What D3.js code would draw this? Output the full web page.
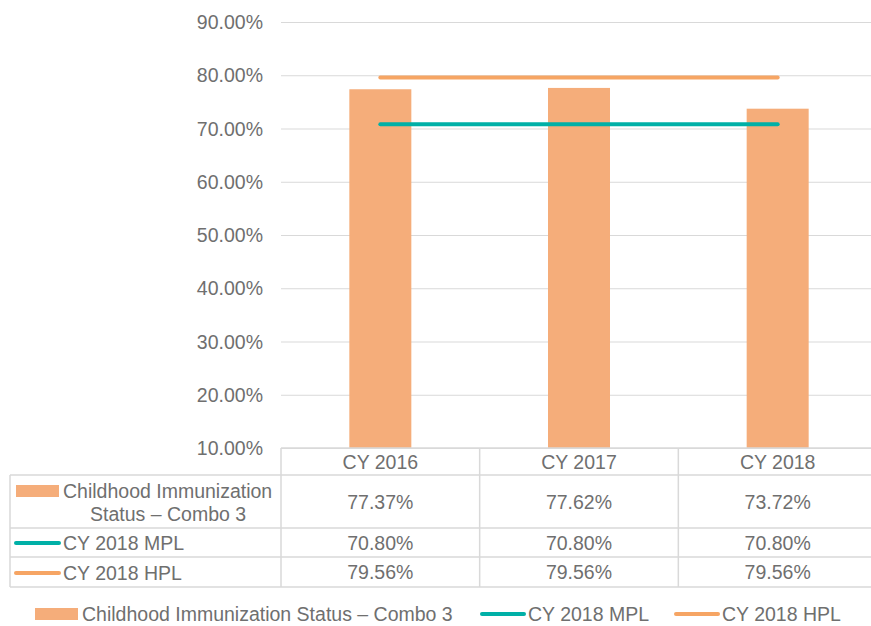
<!DOCTYPE html>
<html>
<head>
<meta charset="utf-8">
<script src="https://cdn.jsdelivr.net/npm/d3@7"></script>
<style>
  body { margin: 0; background: #fff; }
  svg text { font-family: "Liberation Sans", Arial, sans-serif; fill: #6f6f6f; }
</style>
</head>
<body>
<div id="chart"></div>
<script>
// datos del gráfico
var categories = ["CY 2016", "CY 2017", "CY 2018"];
var combo3 = [77.37, 77.62, 73.72];
var mpl = [70.80, 70.80, 70.80];
var hpl = [79.56, 79.56, 79.56];
var yTicks = [10, 20, 30, 40, 50, 60, 70, 80, 90];
var seriesNames = ["Childhood Immunization Status \u2013 Combo 3", "CY 2018 MPL", "CY 2018 HPL"];

var barColor = "#f5ad7a";
var mplColor = "#00b0a7";
var hplColor = "#f6a564";
var gridColor = "#d9d9d9";
var fontSize = "19.5px";

var width = 871, height = 626;
var plotLeft = 281, plotRight = 871, plotTop = 22, plotBottom = 448;

var svg = d3.select("#chart").append("svg")
    .attr("width", width)
    .attr("height", height);

// la última columna se sale un poco del lienzo
var x = d3.scaleBand()
    .domain(categories)
    .range([plotLeft, 877]);

var y = d3.scaleLinear()
    .domain([10, 90])
    .range([plotBottom, plotTop]);

// líneas de cuadrícula
svg.selectAll("line.grid")
    .data(yTicks)
    .enter().append("line")
    .attr("class", "grid")
    .attr("x1", plotLeft)
    .attr("x2", plotRight)
    .attr("y1", d => y(d) + 0.5)
    .attr("y2", d => y(d) + 0.5)
    .attr("stroke", gridColor)
    .attr("stroke-width", 1);

// etiquetas del eje y
svg.selectAll("text.ytick")
    .data(yTicks)
    .enter().append("text")
    .attr("class", "ytick")
    .attr("x", 263)
    .attr("y", d => y(d) + 7)
    .attr("text-anchor", "end")
    .attr("font-size", fontSize)
    .text(d => d.toFixed(2) + "%");

// barras
var barWidth = 62;
svg.selectAll("rect.bar")
    .data(combo3)
    .enter().append("rect")
    .attr("class", "bar")
    .attr("x", (d, i) => x(categories[i]) + x.bandwidth() / 2 - barWidth / 2)
    .attr("y", d => y(d))
    .attr("width", barWidth)
    .attr("height", d => plotBottom - y(d))
    .attr("fill", barColor);

// líneas MPL y HPL
var line = d3.line()
    .x((d, i) => x(categories[i]) + x.bandwidth() / 2)
    .y(d => y(d));

svg.append("path")
    .datum(hpl)
    .attr("d", line)
    .attr("fill", "none")
    .attr("stroke", hplColor)
    .attr("stroke-width", 4)
    .attr("stroke-linecap", "round");

svg.append("path")
    .datum(mpl)
    .attr("d", line)
    .attr("fill", "none")
    .attr("stroke", mplColor)
    .attr("stroke-width", 4)
    .attr("stroke-linecap", "round");

// tabla de datos
var tableLeft = 10;
var rowLines = [448, 475, 528, 557, 587];
var rows = [
    { values: combo3, top: 475, bottom: 528 },
    { values: mpl, top: 528, bottom: 557 },
    { values: hpl, top: 557, bottom: 587 }
];

var tbl = svg.append("g").attr("stroke", gridColor).attr("stroke-width", 1.5);
// horizontales
rowLines.forEach(function (yy, i) {
    tbl.append("line")
        .attr("x1", i === 0 ? plotLeft : tableLeft)
        .attr("x2", plotRight)
        .attr("y1", yy)
        .attr("y2", yy);
});
// verticales
tbl.append("line").attr("x1", tableLeft).attr("x2", tableLeft).attr("y1", 475).attr("y2", 587);
categories.forEach(function (c) {
    tbl.append("line").attr("x1", x(c)).attr("x2", x(c)).attr("y1", 448).attr("y2", 587);
});

// encabezados de categoría
svg.selectAll("text.cat")
    .data(categories)
    .enter().append("text")
    .attr("class", "cat")
    .attr("x", d => x(d) + x.bandwidth() / 2)
    .attr("y", 469)
    .attr("text-anchor", "middle")
    .attr("font-size", fontSize)
    .text(d => d);

// valores en la tabla
rows.forEach(function (r) {
    svg.selectAll(null)
        .data(r.values)
        .enter().append("text")
        .attr("x", (d, i) => x(categories[i]) + x.bandwidth() / 2)
        .attr("y", (r.top + r.bottom) / 2 + 7)
        .attr("text-anchor", "middle")
        .attr("font-size", fontSize)
        .text(d => d.toFixed(2) + "%");
});

// claves de la tabla
svg.append("rect").attr("x", 16).attr("y", 485).attr("width", 43).attr("height", 12).attr("fill", barColor);
svg.append("text").attr("x", 63).attr("y", 498).attr("font-size", fontSize).text("Childhood Immunization");
svg.append("text").attr("x", 90).attr("y", 521).attr("font-size", fontSize).text("Status \u2013 Combo 3");

svg.append("line").attr("x1", 16).attr("x2", 59).attr("y1", 543).attr("y2", 543)
    .attr("stroke", mplColor).attr("stroke-width", 4).attr("stroke-linecap", "round");
svg.append("text").attr("x", 63).attr("y", 550).attr("font-size", fontSize).text(seriesNames[1]);

svg.append("line").attr("x1", 16).attr("x2", 59).attr("y1", 573).attr("y2", 573)
    .attr("stroke", hplColor).attr("stroke-width", 4).attr("stroke-linecap", "round");
svg.append("text").attr("x", 63).attr("y", 580).attr("font-size", fontSize).text(seriesNames[2]);

// leyenda inferior
var legY = 614;
svg.append("rect").attr("x", 35).attr("y", legY - 6).attr("width", 43).attr("height", 12).attr("fill", barColor);
svg.append("text").attr("x", 82).attr("y", legY + 7).attr("font-size", fontSize).text(seriesNames[0]);

svg.append("line").attr("x1", 482).attr("x2", 524).attr("y1", legY).attr("y2", legY)
    .attr("stroke", mplColor).attr("stroke-width", 4).attr("stroke-linecap", "round");
svg.append("text").attr("x", 528).attr("y", legY + 7).attr("font-size", fontSize).text(seriesNames[1]);

svg.append("line").attr("x1", 676).attr("x2", 718).attr("y1", legY).attr("y2", legY)
    .attr("stroke", hplColor).attr("stroke-width", 4).attr("stroke-linecap", "round");
svg.append("text").attr("x", 722).attr("y", legY + 7).attr("font-size", fontSize).text(seriesNames[2]);
</script>
</body>
</html>
